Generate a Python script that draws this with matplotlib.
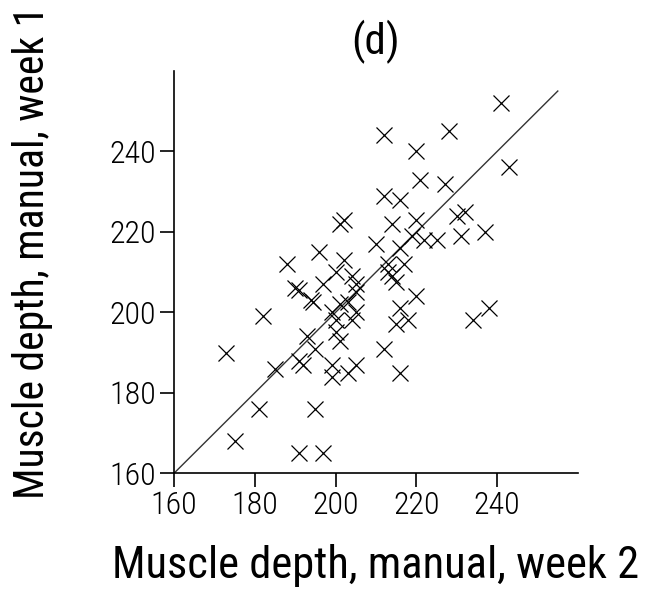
import matplotlib
matplotlib.use("Agg")
import matplotlib.pyplot as plt
from matplotlib import font_manager

# data: week 2 (x) vs week 1 (y)
week2 = [241, 243, 212, 228, 220, 221, 227, 212, 216, 232, 230, 214, 220, 237,
         231, 219, 222, 225, 216, 217, 210, 201, 202, 196, 188, 202, 200, 204,
         213, 213, 214, 215, 220, 216, 215, 218, 238, 234, 212, 216,
         190, 191, 194, 194.5, 182, 197, 205, 205, 203, 201, 199, 205, 200, 204,
         193, 195, 200, 201, 191, 192, 185, 199, 199, 203, 205, 173,
         181, 195, 175, 191, 197]
week1 = [252, 236, 244, 245, 240, 233, 232, 229, 228, 225, 224, 222, 223, 220,
         219, 219, 218, 218, 216, 212, 217, 222, 223, 215, 212, 213, 210, 209,
         212, 210, 209, 207.5, 204, 201, 197, 198, 201, 198, 191, 185,
         206, 205.5, 203, 202.5, 199, 207, 207, 205, 202.5, 202, 200, 200, 198, 198,
         194, 191, 195, 193, 188, 187, 186, 187, 184, 185, 187, 190,
         176, 176, 168, 165, 165]

# pick a thin, narrow face if one is around
fonts = font_manager.fontManager.ttflist
family, weight = "Liberation Sans Narrow", "normal"
for name in ("Roboto Condensed", "Open Sans Condensed", "Noto Sans Condensed"):
    light = [f for f in fonts if f.name == name and f.weight in (200, 300, "light", "extra-light")]
    if light:
        family, weight = name, light[0].weight
        break
else:
    if family not in {f.name for f in fonts}:
        family = "DejaVu Sans"
plt.rcParams["font.family"] = family
plt.rcParams["font.weight"] = weight

fig = plt.figure(figsize=(6.58, 5.97), dpi=100)
ax = fig.add_axes([0.2644, 0.2072, 0.614, 0.674])

ax.plot([160, 255], [160, 255], color="#333333", lw=1.0)
ax.plot(week2, week1, linestyle="none", marker="x", markersize=12,
        markeredgewidth=0.9, color="black")

ax.set_xlim(160, 260)
ax.set_ylim(160, 260)
ax.set_xticks([160, 180, 200, 220, 240])
ax.set_yticks([160, 180, 200, 220, 240])
for s in ("top", "right"):
    ax.spines[s].set_visible(False)
for s in ("left", "bottom"):
    ax.spines[s].set_linewidth(1.2)
ax.tick_params(direction="out", length=10, width=1.2, labelsize=23, pad=3)

ax.set_xlabel("Muscle depth, manual, week 2", fontsize=32)
ax.set_ylabel("Muscle depth, manual, week 1", fontsize=30)
ax.xaxis.set_label_coords(0.5, -0.175)
ax.yaxis.set_label_coords(-0.3, 0.55)
ax.set_title("(d)", fontsize=31, pad=12)

fig.savefig("out.png", dpi=100)
